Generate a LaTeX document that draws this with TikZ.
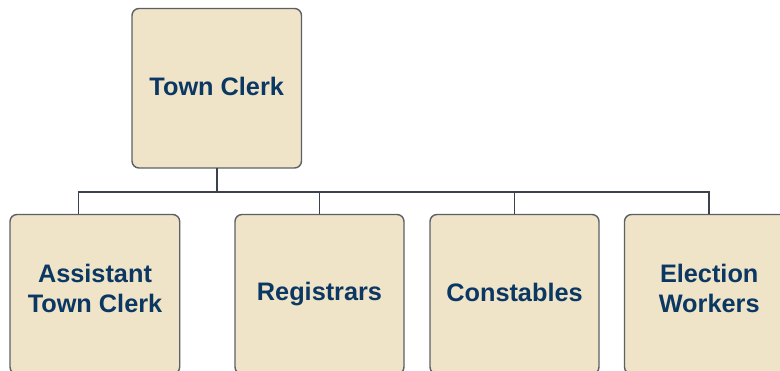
\documentclass[tikz,border=0pt]{standalone}
\usepackage{fontspec}
\setmainfont{Liberation Sans}
\begin{document}
\begin{tikzpicture}[x=1pt,y=-1pt,
  orgbox/.style={draw=boxline, fill=boxfill, line width=1.4pt, rounded corners=7pt},
  orglabel/.style={text=labelblue, font=\fontsize{25.3}{30}\selectfont\bfseries, align=center},
  link/.style={draw=linkgray, line width=1.8pt}]
\definecolor{boxfill}{HTML}{EFE3C8}
\definecolor{boxline}{HTML}{5C5F66}
\definecolor{labelblue}{HTML}{0B3763}
\definecolor{linkgray}{HTML}{3C424B}
\useasboundingbox (0,0) rectangle (780,371);
\clip (0,0) rectangle (780,371);
% boxes
\draw[orgbox] (132,8.5) rectangle (301.5,168);
\node[orglabel] (tc) at (216.7,86.5) {Town Clerk};
\draw[orgbox] (10,214.5) rectangle (179.7,374);
\node[orglabel] (atc) at (95,288.8) {Assistant\\Town Clerk};
\draw[orgbox] (235,214.5) rectangle (404,374);
\node[orglabel] (reg) at (319.5,294.5) {Registrars};
\draw[orgbox] (430,214.5) rectangle (599,374);
\node[orglabel] (con) at (514.5,292.5) {Constables};
\draw[orgbox] (624.5,214.5) rectangle (794,374);
\node[orglabel] (ew) at (709.2,288.8) {Election\\Workers};
% connectors
\coordinate (tcb) at (216.7,168.5);
\coordinate (bus) at (216.7,191.7);
\coordinate (a1) at (78.5,214);
\coordinate (a2) at (319.5,214);
\coordinate (a3) at (514.5,214);
\coordinate (a4) at (708.7,214);
\draw[link] (tcb) -- (bus);
\draw[link] (a1) |- (bus) -| (a4);
\draw[link] (a2) -- (a2 |- bus);
\draw[link] (a3) -- (a3 |- bus);
\end{tikzpicture}
\end{document}
